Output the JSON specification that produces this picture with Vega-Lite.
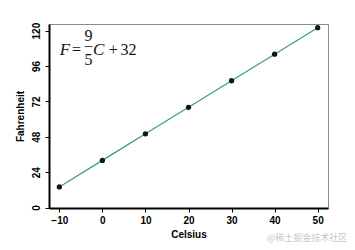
{
  "$schema": "https://vega.github.io/schema/vega-lite/v6.json",
  "autosize": "none",
  "padding": {"left": 49, "top": 24, "right": 27, "bottom": 42},
  "width": 279,
  "height": 184,
  "config": {
    "view": {"stroke": "#8c8c8c", "strokeWidth": 1},
    "font": "Liberation Sans",
    "axis": {"labelOverlap": false, "labelBound": false, "labelFlush": false}
  },
  "datasets": {
    "pts": [
      {"Celsius": -10, "Fahrenheit": 14},
      {"Celsius": 0, "Fahrenheit": 32},
      {"Celsius": 10, "Fahrenheit": 50},
      {"Celsius": 20, "Fahrenheit": 68},
      {"Celsius": 30, "Fahrenheit": 86},
      {"Celsius": 40, "Fahrenheit": 104},
      {"Celsius": 50, "Fahrenheit": 122}
    ],
    "italic": [
      {"x": -9.9, "y": 103.7, "label": "F"},
      {"x": -2.2, "y": 103.7, "label": "C"}
    ],
    "upright": [
      {"x": -7.05, "y": 103.7, "label": "="},
      {"x": 1.5, "y": 103.7, "label": "+"},
      {"x": 4.2, "y": 103.7, "label": "32"}
    ],
    "frac": [
      {"x": -3.2, "y": 113.2, "label": "9"},
      {"x": -3.2, "y": 97.0, "label": "5"}
    ],
    "bar": [{"x": -4.1, "x2": -2.3, "y": 109.2}],
    "wm": [{"x": 56.9, "y": -23, "label": "@稀土掘金技术社区"}]
  },
  "layer": [
    {
      "data": {"name": "pts"},
      "mark": {"type": "line", "color": "#3a9a80", "strokeWidth": 1.2},
      "encoding": {
        "x": {
          "field": "Celsius", "type": "quantitative",
          "scale": {"domain": [-12.4, 52.4], "nice": false, "zero": false},
          "axis": {
            "values": [-10, 0, 10, 20, 30, 40, 50], "tickCount": 12,
            "title": "Celsius", "titleFontWeight": "bold", "titleFontSize": 10, "titleColor": "#000",
            "titlePadding": 4, "labelOverlap": false,
            "labelFontWeight": "bold", "labelFontSize": 10, "labelColor": "#000", "labelPadding": 3,
            "domainColor": "#000", "domainWidth": 2, "tickColor": "#000", "tickSize": 4, "tickWidth": 1,
            "grid": false
          }
        },
        "y": {
          "field": "Fahrenheit", "type": "quantitative",
          "scale": {"domain": [-0.3, 124.5], "nice": false, "zero": false},
          "axis": {
            "values": [0, 24, 48, 72, 96, 120], "tickCount": 12,
            "title": "Fahrenheit", "titleFontWeight": "bold", "titleFontSize": 10, "titleColor": "#000",
            "titlePadding": 6, "labelOverlap": false,
            "labelAngle": -90, "labelAlign": "center", "labelBaseline": "bottom",
            "labelFontWeight": "bold", "labelFontSize": 10, "labelColor": "#000", "labelPadding": 4,
            "domainColor": "#000", "domainWidth": 2, "tickColor": "#000", "tickSize": 4, "tickWidth": 1,
            "grid": false
          }
        }
      }
    },
    {
      "data": {"name": "pts"},
      "mark": {"type": "point", "filled": true, "color": "#0d1a14", "size": 28, "opacity": 1},
      "encoding": {
        "x": {"field": "Celsius", "type": "quantitative"},
        "y": {"field": "Fahrenheit", "type": "quantitative"}
      }
    },
    {
      "data": {"name": "italic"},
      "mark": {"type": "text", "font": "Liberation Serif", "fontStyle": "italic", "fontSize": 17, "align": "left", "baseline": "alphabetic", "color": "#111"},
      "encoding": {
        "x": {"field": "x", "type": "quantitative"},
        "y": {"field": "y", "type": "quantitative"},
        "text": {"field": "label"}
      }
    },
    {
      "data": {"name": "upright"},
      "mark": {"type": "text", "font": "Liberation Serif", "fontSize": 16, "align": "left", "baseline": "alphabetic", "color": "#111"},
      "encoding": {
        "x": {"field": "x", "type": "quantitative"},
        "y": {"field": "y", "type": "quantitative"},
        "text": {"field": "label"}
      }
    },
    {
      "data": {"name": "frac"},
      "mark": {"type": "text", "font": "Liberation Serif", "fontSize": 16, "align": "center", "baseline": "alphabetic", "color": "#111"},
      "encoding": {
        "x": {"field": "x", "type": "quantitative"},
        "y": {"field": "y", "type": "quantitative"},
        "text": {"field": "label"}
      }
    },
    {
      "data": {"name": "bar"},
      "mark": {"type": "rule", "color": "#111", "strokeWidth": 0.8},
      "encoding": {
        "x": {"field": "x", "type": "quantitative"},
        "x2": {"field": "x2"},
        "y": {"field": "y", "type": "quantitative"}
      }
    },
    {
      "data": {"name": "wm"},
      "mark": {"type": "text", "font": "Noto Sans CJK SC", "fontSize": 9, "align": "right", "baseline": "alphabetic", "color": "#c8c8c8"},
      "encoding": {
        "x": {"field": "x", "type": "quantitative"},
        "y": {"field": "y", "type": "quantitative"},
        "text": {"field": "label"}
      }
    }
  ]
}
